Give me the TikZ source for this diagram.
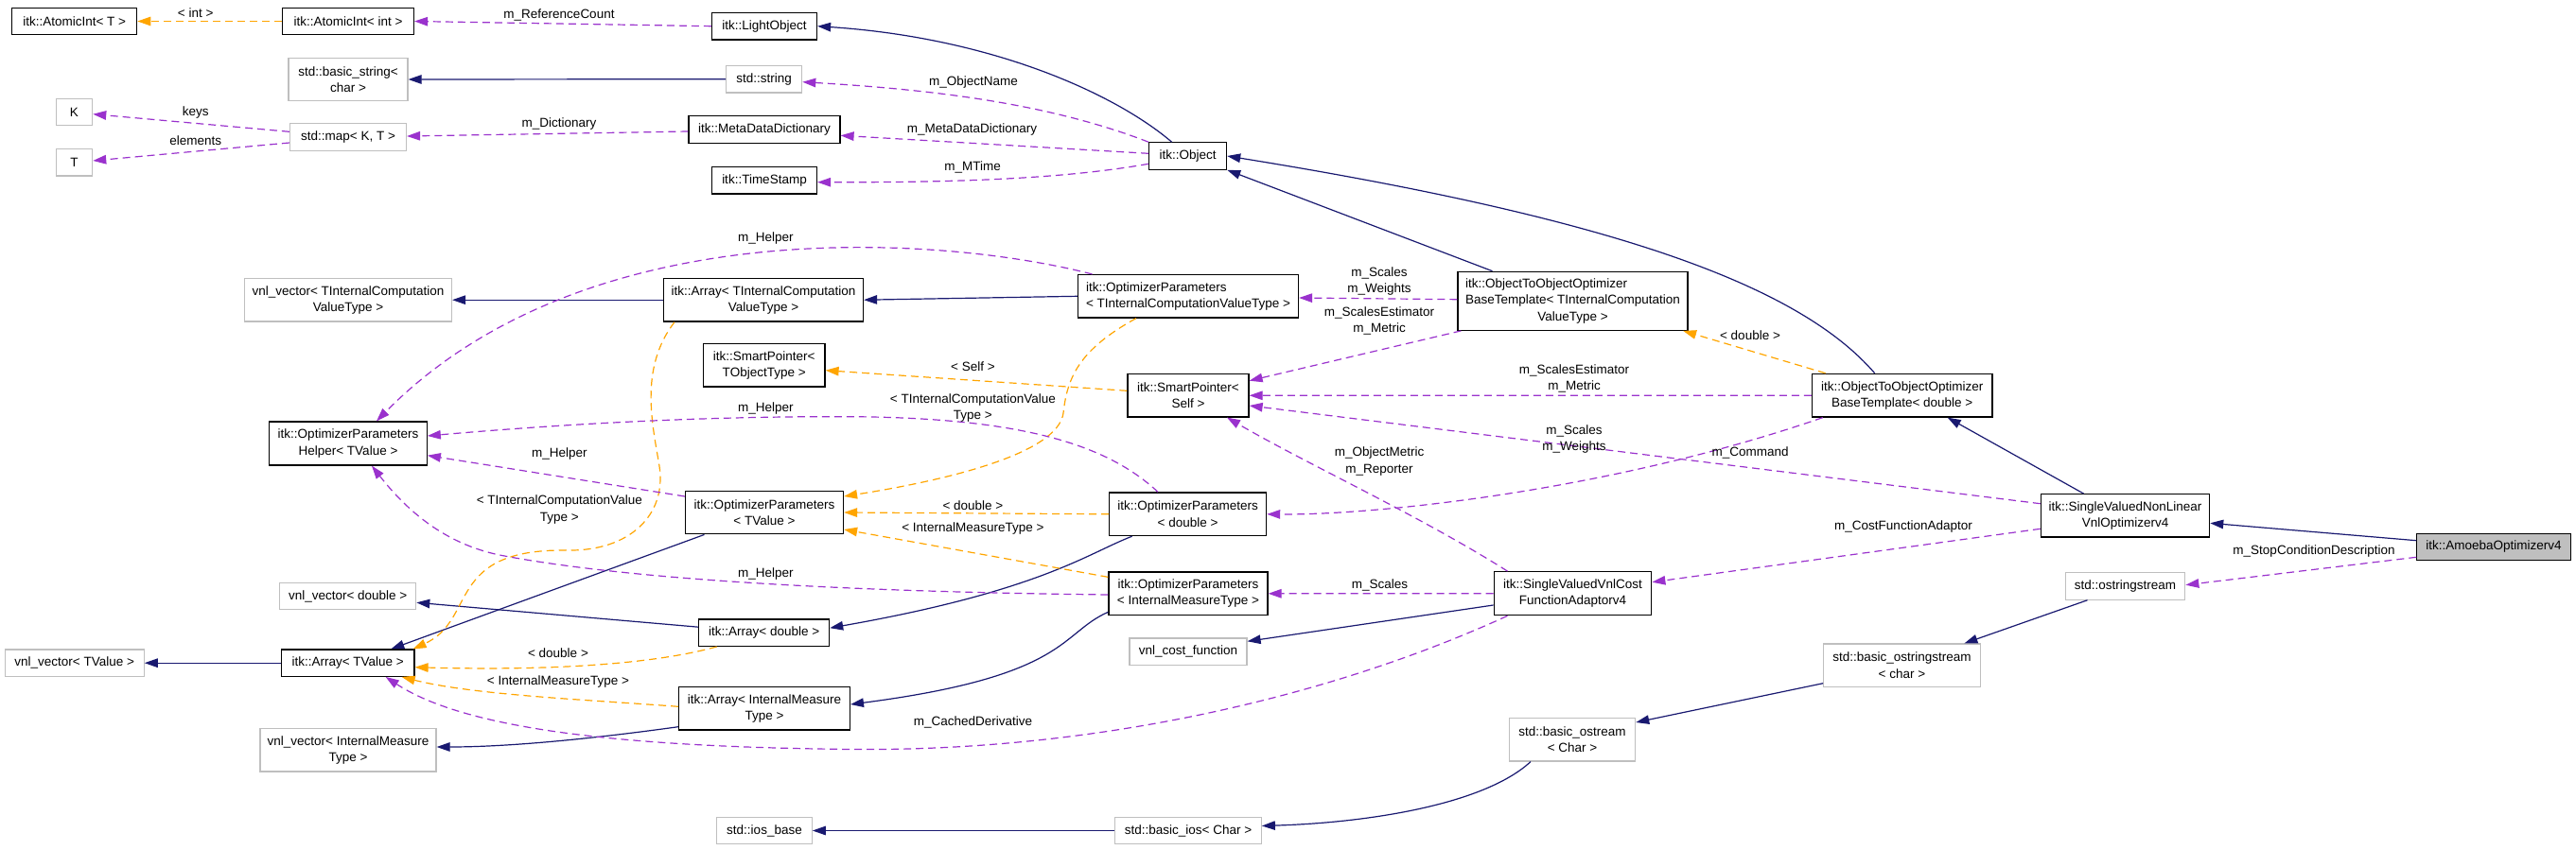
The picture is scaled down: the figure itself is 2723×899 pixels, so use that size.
\documentclass[tikz,border=0pt]{standalone}
\usepackage{fontspec}
\setmainfont{Liberation Sans}
\usetikzlibrary{arrows.meta}
\definecolor{inhc}{HTML}{191970}
\definecolor{usec}{HTML}{9A32CD}
\definecolor{tplc}{HTML}{FFA500}
\definecolor{gbd}{HTML}{BFBFBF}
\begin{document}
\begin{tikzpicture}[x=1pt,y=-1pt,
  every node/.style={font=\fontsize{13.5}{17.3}\selectfont},
  cls/.style={draw=black, line width=1.2pt, fill=white, inner sep=0pt, align=center},
  ext/.style={draw=gbd, line width=1.2pt, fill=white, inner sep=0pt, align=center},
  me/.style={cls, fill=gbd},
  lbl/.style={inner sep=0pt, align=center},
  tip/.style={-{Triangle[length=14pt,width=9.5pt]}},
  inhe/.style={draw=inhc, line width=1.2pt, tip},
  usee/.style={draw=usec, line width=1.2pt, dash pattern=on 8pt off 5pt, tip},
  tple/.style={draw=tplc, line width=1.2pt, dash pattern=on 8pt off 5pt, tip}
]
\useasboundingbox (0,0) rectangle (2723,899);
% ---------- nodes ----------
\node[cls, minimum width=132pt, minimum height=28.4pt] (aT) at (78.7,22.5) {itk::AtomicInt< T >};
\node[cls, minimum width=139pt, minimum height=28.4pt] (aInt) at (368,22.5) {itk::AtomicInt< int >};
\node[cls, minimum width=111pt, minimum height=28.7pt] (light) at (808,27.7) {itk::LightObject};
\node[ext, minimum width=126pt, minimum height=45.7pt] (bstr) at (368,84) {std::basic\_string<\\char >};
\node[ext, minimum width=80pt, minimum height=28.7pt] (str) at (807.7,83.7) {std::string};
\node[ext, minimum width=38.5pt, minimum height=28.4pt] (K) at (78.4,118.5) {K};
\node[ext, minimum width=38.5pt, minimum height=28.4pt] (Tn) at (78.4,171.7) {T};
\node[ext, minimum width=123pt, minimum height=28.6pt] (map) at (368,145) {std::map< K, T >};
\node[cls, minimum width=160pt, minimum height=28.6pt] (mdd) at (808,137) {itk::MetaDataDictionary};
\node[cls, minimum width=111pt, minimum height=28.4pt] (ts) at (808,190.8) {itk::TimeStamp};
\node[cls, minimum width=82pt, minimum height=28.4pt] (obj) at (1255.6,165) {itk::Object};
\node[ext, minimum width=219pt, minimum height=45.7pt] (vnlTICVT) at (368,317.2) {vnl\_vector< TInternalComputation\\ValueType >};
\node[cls, minimum width=211pt, minimum height=45.7pt] (arrTICVT) at (807,317.2) {itk::Array< TInternalComputation\\ValueType >};
\node[cls, align=left, minimum width=233pt, minimum height=45.5pt] (opTICVT) at (1256,313.3) {itk::OptimizerParameters\\< TInternalComputationValueType >};
\node[cls, minimum width=243pt, minimum height=62pt] (otooTICVT) at (1662.5,318.3) {\renewcommand{\arraystretch}{1.0}\setlength{\tabcolsep}{0pt}\begin{tabular}{l}itk::ObjectToObjectOptimizer\\BaseTemplate< TInternalComputation\\\multicolumn{1}{c}{ValueType >}\end{tabular}};
\node[cls, minimum width=128.6pt, minimum height=45.7pt] (spTOT) at (807.7,386.2) {itk::SmartPointer<\\TObjectType >};
\node[cls, minimum width=128pt, minimum height=45.3pt] (spSelf) at (1256,418.3) {itk::SmartPointer<\\Self >};
\node[cls, minimum width=190.6pt, minimum height=45.7pt] (otooD) at (2010.7,418.2) {itk::ObjectToObjectOptimizer\\BaseTemplate< double >};
\node[cls, minimum width=166.5pt, minimum height=46pt] (helper) at (368,469) {itk::OptimizerParameters\\Helper< TValue >};
\node[cls, minimum width=167pt, minimum height=45.7pt] (opTV) at (808,542) {itk::OptimizerParameters\\< TValue >};
\node[cls, minimum width=166pt, minimum height=45.7pt] (opD) at (1255.6,543.8) {itk::OptimizerParameters\\< double >};
\node[cls, minimum width=178.3pt, minimum height=45.3pt] (svnl) at (2246.5,545.3) {itk::SingleValuedNonLinear\\VnlOptimizerv4};
\node[me, minimum width=162.4pt, minimum height=28pt] (amoeba) at (2636,578.5) {itk::AmoebaOptimizerv4};
\node[ext, minimum width=126.5pt, minimum height=28.3pt] (ostr) at (2246.5,620) {std::ostringstream};
\node[ext, minimum width=144pt, minimum height=28pt] (vnlD) at (367.7,630.7) {vnl\_vector< double >};
\node[cls, minimum width=137.8pt, minimum height=28.3pt] (arrD) at (807.7,669.2) {itk::Array< double >};
\node[cls, minimum width=168pt, minimum height=45.7pt] (opIMT) at (1256,627.8) {itk::OptimizerParameters\\< InternalMeasureType >};
\node[cls, minimum width=166.6pt, minimum height=46pt] (svvcfa) at (1662.5,627.7) {itk::SingleValuedVnlCost\\FunctionAdaptorv4};
\node[ext, minimum width=124pt, minimum height=28.3pt] (vnlcf) at (1256,689.2) {vnl\_cost\_function};
\node[ext, minimum width=147pt, minimum height=28.3pt] (vnlTV) at (78.7,701.2) {vnl\_vector< TValue >};
\node[cls, minimum width=140.6pt, minimum height=28.3pt] (arrTV) at (367.7,701.2) {itk::Array< TValue >};
\node[cls, minimum width=180.8pt, minimum height=45.3pt] (arrIMT) at (808,749.3) {itk::Array< InternalMeasure\\Type >};
\node[ext, minimum width=165.4pt, minimum height=45.3pt] (bostrs) at (2010.4,703.7) {std::basic\_ostringstream\\< char >};
\node[ext, minimum width=186pt, minimum height=45.3pt] (vnlIMT) at (368,793.3) {vnl\_vector< InternalMeasure\\Type >};
\node[ext, minimum width=133.3pt, minimum height=45.3pt] (bostream) at (1662,782.3) {std::basic\_ostream\\< Char >};
\node[ext, minimum width=100.5pt, minimum height=28.4pt] (ios) at (808,878.5) {std::ios\_base};
\node[ext, minimum width=154.5pt, minimum height=28.4pt] (basicios) at (1256,878.5) {std::basic\_ios< Char >};
% ---------- inheritance ----------
\draw[inhe] ([xshift=-17pt]obj.north) .. controls (1180,100) and (1050,40) .. (light.east);
\draw[inhe] (str.west) -- (bstr.east);
\draw[inhe] ([xshift=-85pt]otooTICVT.north) -- (obj.south east);
\draw[inhe] ([xshift=-29pt]otooD.north) .. controls (1900,300) and (1700,230) .. (obj.east);
\draw[inhe] (opTICVT.west) -- (arrTICVT.east);
\draw[inhe] (arrTICVT.west) -- (vnlTICVT.east);
\draw[inhe] ([xshift=-44pt]svnl.north) -- ([xshift=48pt]otooD.south);
\draw[inhe] ([yshift=6.8pt]amoeba.west) -- ([yshift=-8pt]svnl.east);
\draw[inhe] ([xshift=-40pt]ostr.south) -- ([xshift=66pt]bostrs.north);
\draw[inhe] ([yshift=-19pt]bostrs.west) -- ([yshift=18.3pt]bostream.east);
\draw[inhe] ([xshift=-44pt]bostream.south) .. controls (1570,850) and (1450,870) .. ([yshift=5pt]basicios.east);
\draw[inhe] (basicios.west) -- (ios.east);
\draw[inhe] ([xshift=-59pt]opD.south) .. controls (1150,585) and (1100,625) .. ([yshift=5pt]arrD.east);
\draw[inhe] ([xshift=-63.5pt]opTV.south) -- ([xshift=45.6pt]arrTV.north);
\draw[inhe] ([yshift=6pt]arrD.west) -- ([yshift=-6.6pt]vnlD.east);
\draw[inhe] (arrTV.west) -- (vnlTV.east);
\draw[inhe] ([yshift=-19.5pt]opIMT.west) .. controls (1120,670) and (1130,715) .. ([yshift=4.3pt]arrIMT.east);
\draw[inhe] ([yshift=-19.4pt]arrIMT.west) .. controls (650,778) and (550,790) .. ([yshift=3.3pt]vnlIMT.east);
\draw[inhe] ([yshift=-12.3pt]svvcfa.west) -- ([yshift=10.9pt]vnlcf.east);
% ---------- template instances ----------
\draw[tple] (aInt.west) -- (aT.east);
\draw[tple] ([yshift=5pt]spSelf.west) -- ([yshift=-5.5pt]spTOT.east);
\draw[tple] ([xshift=-94pt]arrTICVT.south) .. controls (675,390) and (690,450) .. (697,493) .. controls (705,545) and (665,583) .. (600,582) .. controls (470,580) and (505,655) .. ([xshift=-2pt]arrTV.north east);
\draw[tple] ([xshift=-55pt]opTICVT.south) .. controls (1140,370) and (1128,400) .. (1124,437) .. controls (1118,480) and (1000,508) .. ([yshift=17pt]opTV.east);
\draw[tple] (opD.west) -- (opTV.east);
\draw[tple] ([yshift=-6pt]opIMT.north west) -- ([yshift=-18pt]opTV.east);
\draw[tple] ([xshift=-81pt]otooD.north) -- ([xshift=-5.5pt]otooTICVT.south east);
\draw[tple] ([xshift=-50pt]arrD.south) .. controls (700,700) and (600,710) .. ([yshift=-4.5pt]arrTV.east);
\draw[tple] ([yshift=2pt]arrIMT.west) .. controls (620,740) and (500,735) .. ([xshift=57pt]arrTV.south);
% ---------- usage ----------
\draw[usee] (light.west) -- (aInt.east);
\draw[usee] (obj.north west) .. controls (1110,110) and (990,95) .. ([yshift=-3pt]str.east);
\draw[usee] ([yshift=2.7pt]obj.west) -- ([yshift=-6.3pt]mdd.east);
\draw[usee] ([yshift=-8.3pt]obj.west) .. controls (1120,190) and (1000,193) .. ([yshift=-1.9pt]ts.east);
\draw[usee] ([yshift=-2pt]mdd.west) -- ([yshift=1pt]map.east);
\draw[usee] ([yshift=5.7pt]map.west) -- ([yshift=-2.2pt]K.east);
\draw[usee] ([yshift=-6pt]map.west) -- ([yshift=1.7pt]Tn.east);
\draw[usee] ([xshift=-101.5pt]opTICVT.north) .. controls (1000,250) and (620,220) .. ([xshift=30pt]helper.north);
\draw[usee] ([xshift=-31.6pt]opD.north) .. controls (1170,470) and (1080,442) .. (900,440.7) .. controls (750,440) and (600,448) .. ([yshift=8pt]helper.east);
\draw[usee] ([yshift=17pt]opTV.west) -- ([yshift=-12.7pt]helper.east);
\draw[usee] ([yshift=-1.2pt]opIMT.west) .. controls (1000,627) and (700,620) .. (528,587) .. controls (470,575) and (430,540) .. ([xshift=25pt]helper.south);
\draw[usee] ([yshift=1.6pt]otooTICVT.west) -- ([yshift=-1.7pt]opTICVT.east);
\draw[usee] ([xshift=4pt]otooTICVT.south west) -- ([yshift=15.6pt]spSelf.east);
\draw[usee] (otooD.west) -- (spSelf.east);
\draw[usee] ([yshift=12.6pt]svnl.west) -- ([yshift=-10.7pt]spSelf.east);
\draw[usee] ([xshift=-84pt]otooD.south) .. controls (1700,520) and (1450,545) .. (opD.east);
\draw[usee] ([xshift=-69pt]svvcfa.north) .. controls (1500,545) and (1380,490) .. ([xshift=41pt]spSelf.south);
\draw[usee] ([yshift=-14pt]svnl.west) -- ([yshift=12pt]svvcfa.east);
\draw[usee] (svvcfa.west) -- (opIMT.east);
\draw[usee] ([xshift=-69pt]svvcfa.south) .. controls (1400,740) and (1150,795) .. (900,792.5) .. controls (650,790) and (490,770) .. ([xshift=40pt]arrTV.south);
\draw[usee] ([yshift=-10.8pt]amoeba.west) -- ([yshift=1.3pt]ostr.east);
% ---------- labels ----------
\node[lbl] (l1) at (206.7,13.3) {< int >};
\node[lbl] (l2) at (591,15.7) {m\_ReferenceCount};
\node[lbl] (l3) at (206.7,119.3) {keys};
\node[lbl] (l4) at (206.7,148.3) {elements};
\node[lbl] (l5) at (591,131) {m\_Dictionary};
\node[lbl] (l6) at (1029,87.3) {m\_ObjectName};
\node[lbl] (l7) at (1027.4,136.7) {m\_MetaDataDictionary};
\node[lbl] (l8) at (1028,176.7) {m\_MTime};
\node[lbl] (l9) at (809.4,251.7) {m\_Helper};
\node[lbl] (l10) at (1458,297.7) {m\_Scales\\m\_Weights};
\node[lbl] (l11) at (1458,339.2) {m\_ScalesEstimator\\m\_Metric};
\node[lbl] (l12) at (1850,355) {< double >};
\node[lbl] (l13) at (1028.4,387.3) {< Self >};
\node[lbl] (l14) at (1028.4,431.3) {< TInternalComputationValue\\Type >};
\node[lbl] (l15) at (1664,400.3) {m\_ScalesEstimator\\m\_Metric};
\node[lbl] (l16) at (809.4,431.7) {m\_Helper};
\node[lbl] (l17) at (1664,464.2) {m\_Scales\\m\_Weights};
\node[lbl] (l18) at (1850,479.3) {m\_Command};
\node[lbl] (l19) at (1458,488) {m\_ObjectMetric\\m\_Reporter};
\node[lbl] (l20) at (591.3,480) {m\_Helper};
\node[lbl] (l21) at (591.3,539) {< TInternalComputationValue\\Type >};
\node[lbl] (l22) at (1028.4,535) {< double >};
\node[lbl] (l23) at (1028.4,559) {< InternalMeasureType >};
\node[lbl] (l24) at (2012,556.7) {m\_CostFunctionAdaptor};
\node[lbl] (l25) at (2446,582.7) {m\_StopConditionDescription};
\node[lbl] (l26) at (809.4,606.7) {m\_Helper};
\node[lbl] (l27) at (1458.6,618.7) {m\_Scales};
\node[lbl] (l28) at (590,691) {< double >};
\node[lbl] (l29) at (590,721) {< InternalMeasureType >};
\node[lbl] (l30) at (1028.4,764.3) {m\_CachedDerivative};
\end{tikzpicture}
\end{document}
